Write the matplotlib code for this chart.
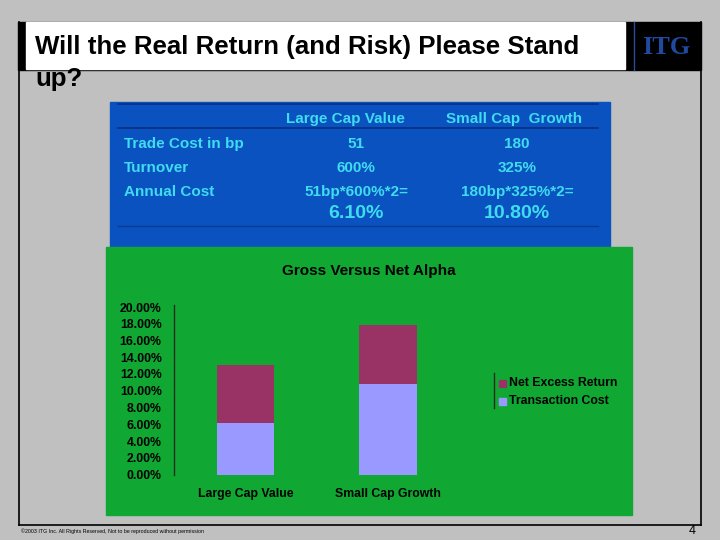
import matplotlib
matplotlib.use("Agg")
import matplotlib.pyplot as plt
from matplotlib.patches import Rectangle
from matplotlib.lines import Line2D

# ---- data ----
categories = ["Large Cap Value", "Small Cap Growth"]
transaction_cost = [6.1, 10.8]
net_excess_return = [6.95, 7.1]
series_names = ["Net Excess Return", "Transaction Cost"]
yticks = [0, 2, 4, 6, 8, 10, 12, 14, 16, 18, 20]

table_header = ["Large Cap Value", "Small Cap  Growth"]
table_rows = ["Trade Cost in bp", "Turnover", "Annual Cost"]
table_col1 = ["51", "600%", "51bp*600%*2="]
table_col2 = ["180", "325%", "180bp*325%*2="]
table_totals = ["6.10%", "10.80%"]

W, H = 720, 540
fig = plt.figure(figsize=(7.2, 5.4), dpi=100)
fig.patch.set_facecolor("#c0c0c0")

bg = fig.add_axes([0, 0, 1, 1])
bg.set_xlim(0, W)
bg.set_ylim(H, 0)
bg.axis("off")

SANS = ["Liberation Sans", "DejaVu Sans"]

# frame
bg.add_line(Line2D([19, 19], [22, 525], color="black", lw=1.2))
bg.add_line(Line2D([700.5, 700.5], [22, 525], color="black", lw=1.2))
bg.add_line(Line2D([19, 700.5], [525, 525], color="black", lw=1.2))
# title bar
bg.add_patch(Rectangle((18, 22), 683, 48, color="black"))
bg.add_patch(Rectangle((26, 22), 599, 46.5, color="white"))
bg.add_line(Line2D([634, 634], [22, 70], color="#2a4a9a", lw=1))
bg.text(35, 47, "Will the Real Return (and Risk) Please Stand", fontsize=18.6,
        fontweight="bold", family=SANS, va="center", ha="left", color="black")
bg.text(35, 79, "up?", fontsize=18.6, fontweight="bold", family=SANS,
        va="center", ha="left", color="black")
bg.text(666, 47, "ITG", fontsize=19, fontweight="bold",
        family=["Liberation Serif", "DejaVu Serif"], va="center", ha="center",
        color="#1f4aa0")

# blue table
bg.add_patch(Rectangle((110, 102), 500, 145, color="#0a52c0"))
bg.add_line(Line2D([118, 598], [103.5, 103.5], color="#0a2f80", lw=1.2))
bg.add_line(Line2D([118, 598], [128, 128], color="#0a2f80", lw=1.2))
bg.add_line(Line2D([118, 598], [225.5, 225.5], color="#0a3a90", lw=1))
tc = "#3fdcf0"
bg.text(345, 119, table_header[0], fontsize=11, fontweight="bold", family=SANS,
        color=tc, ha="center", va="center")
bg.text(514, 119, table_header[1], fontsize=11, fontweight="bold", family=SANS,
        color=tc, ha="center", va="center")
row_y = [144, 168, 192]
for i, lab in enumerate(table_rows):
    bg.text(124, row_y[i], lab, fontsize=11, fontweight="bold", family=SANS,
            color=tc, ha="left", va="center")
    bg.text(356, row_y[i], table_col1[i], fontsize=11, fontweight="bold",
            family=SANS, color=tc, ha="center", va="center")
    bg.text(517, row_y[i], table_col2[i], fontsize=11, fontweight="bold",
            family=SANS, color=tc, ha="center", va="center")
bg.text(356, 214, table_totals[0], fontsize=14, fontweight="bold", family=SANS,
        color=tc, ha="center", va="center")
bg.text(517, 214, table_totals[1], fontsize=14, fontweight="bold", family=SANS,
        color=tc, ha="center", va="center")

# green chart area
bg.add_patch(Rectangle((106, 247), 526, 268, color="#10a832"))
bg.text(369, 271, "Gross Versus Net Alpha", fontsize=11, fontweight="bold",
        family=SANS, ha="center", va="center", color="black")

# chart axes in pixel coords
ax_l, ax_r, ax_t, ax_b = 173.5, 459, 307, 474.5
ax = fig.add_axes([ax_l / W, 1 - ax_b / H, (ax_r - ax_l) / W, (ax_b - ax_t) / H])
ax.set_facecolor("none")
x = list(range(len(categories)))
ax.bar(x, transaction_cost, width=0.405, color="#9999ff", label=series_names[1])
ax.bar(x, net_excess_return, width=0.405, bottom=transaction_cost,
       color="#993366", label=series_names[0])
ax.set_xlim(-0.505, 1.5)
ax.set_ylim(0, 20)
ax.set_yticks(yticks)
ax.set_yticklabels([f"{v:.2f}%" for v in yticks], fontsize=8.8,
                   fontweight="bold", family=SANS)
ax.set_xticks(x)
ax.set_xticklabels(categories, fontsize=8.8, fontweight="bold", family=SANS)
ax.tick_params(axis="y", length=0, pad=8.5)
ax.tick_params(axis="x", length=0, pad=9.5)
for s in ["top", "right", "bottom"]:
    ax.spines[s].set_visible(False)
ax.spines["left"].set_color("#203020")
ax.spines["left"].set_linewidth(1)
ax.spines["left"].set_bounds(0, 20.2)

# legend
bg.add_line(Line2D([494, 494], [373, 408], color="#203020", lw=1))
leg_items = [(383, "#993366", series_names[0]), (401, "#9999ff", series_names[1])]
for yy, col, lab in leg_items:
    bg.add_patch(Rectangle((499, yy - 3.5), 7, 7, color=col))
    bg.text(509, yy, lab, fontsize=8.8, fontweight="bold", family=SANS,
            ha="left", va="center", color="black")

# footer
bg.text(21, 531, "\u00a92003 ITG Inc. All Rights Reserved, Not to be reproduced without permission",
        fontsize=3.8, family=SANS, ha="left", va="center", color="black")
bg.text(692, 531, "4", fontsize=9, family=SANS, ha="center", va="center",
        color="black")

fig.savefig("out.png", dpi=100, facecolor=fig.get_facecolor())
